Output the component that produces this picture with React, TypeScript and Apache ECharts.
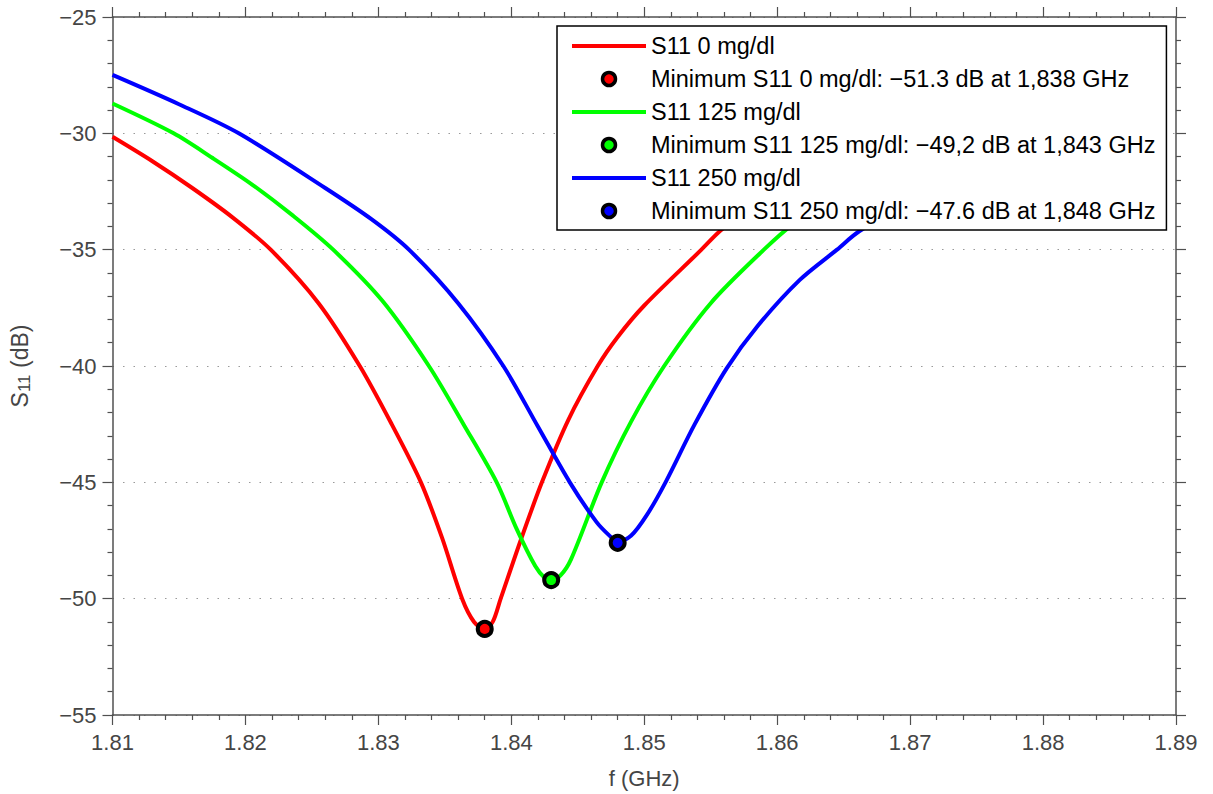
import React, { useEffect, useRef } from "react";
import * as echarts from "echarts";

const FONT = "Liberation Sans, Arial, Helvetica, sans-serif";

const xTicksMin = 1.81;
const xTicksMax = 1.89;
const yTicksMin = -55;
const yTicksMax = -25;

const seriesNames = ["S11 0 mg/dl", "S11 125 mg/dl", "S11 250 mg/dl"];
const minimumNames = [
  "Minimum S11 0 mg/dl: \u221251.3 dB at 1,838 GHz",
  "Minimum S11 125 mg/dl: \u221249,2 dB at 1,843 GHz",
  "Minimum S11 250 mg/dl: \u221247.6 dB at 1,848 GHz",
];
const colors = ["#ff0000", "#00ff00", "#0000ff"];

const s11_0: [number, number][] = [
  [1.81, -30.15], [1.813, -31.2], [1.816, -32.35], [1.819, -33.6],
  [1.8219, -35.0], [1.8255, -37.3], [1.8286, -40.0], [1.831, -42.5],
  [1.8332, -45.0], [1.8348, -47.4], [1.8363, -50.0], [1.8372, -51.0],
  [1.838, -51.3], [1.8386, -51.0], [1.8392, -50.0], [1.8407, -47.5],
  [1.8423, -45.0], [1.8443, -42.3], [1.8465, -40.0], [1.848, -38.75],
  [1.85, -37.4], [1.8543, -35.0], [1.8557, -34.2], [1.86, -32.2],
  [1.865, -30.4],
];
const s11_125: [number, number][] = [
  [1.81, -28.72], [1.8146, -30.0], [1.8175, -31.05], [1.8205, -32.2],
  [1.8236, -33.55], [1.8266, -35.0], [1.8303, -37.2], [1.8338, -40.0],
  [1.8364, -42.5], [1.8389, -45.0], [1.8404, -47.0], [1.8418, -48.6],
  [1.8425, -49.1], [1.843, -49.2], [1.8437, -49.0], [1.8445, -48.3],
  [1.8468, -45.0], [1.849, -42.4], [1.8515, -40.0], [1.855, -37.3],
  [1.859, -35.0], [1.8612, -33.9], [1.866, -32.0], [1.872, -30.3],
];
const s11_250: [number, number][] = [
  [1.81, -27.49], [1.815, -28.75], [1.8195, -30.0], [1.826, -32.35],
  [1.8295, -33.7], [1.8323, -35.0], [1.836, -37.3], [1.8394, -40.0],
  [1.842, -42.6], [1.8444, -45.0], [1.8464, -46.7], [1.8474, -47.3],
  [1.848, -47.55], [1.849, -47.3], [1.8502, -46.4], [1.8516, -45.0],
  [1.8538, -42.5], [1.8562, -40.1], [1.8585, -38.3], [1.8617, -36.3],
  [1.8645, -35.0], [1.8662, -34.2], [1.872, -32.3],
];
const minima: [number, number][] = [
  [1.838, -51.3],
  [1.843, -49.2],
  [1.848, -47.6],
];

const curves = [s11_0, s11_125, s11_250];

export default function App() {
  const ref = useRef<HTMLDivElement>(null);
  useEffect(() => {
    if (!ref.current) return;
    const chart = echarts.init(ref.current, undefined, { renderer: "svg" });
    const axisColor = "#505050";
    const labelColor = "#454545";
    const baseAxis = {
      type: "value" as const,
      axisLine: { show: true, onZero: false, lineStyle: { color: axisColor, width: 1.5 } },
      axisTick: { show: true, inside: false, length: 10, lineStyle: { color: axisColor, width: 1.2 } },
      minorTick: { show: true, splitNumber: 5, length: 5, lineStyle: { color: axisColor, width: 1.2 } },
      splitLine: { show: false },
      minorSplitLine: { show: false },
    };
    const series: any[] = [];
    curves.forEach((c, i) => {
      series.push({
        name: seriesNames[i],
        type: "line",
        data: c,
        symbol: "none",
        smooth: 0.3,
        lineStyle: { color: colors[i], width: 4 },
        itemStyle: { color: colors[i] },
        z: 2,
      });
      series.push({
        name: minimumNames[i],
        type: "scatter",
        data: [minima[i]],
        symbol: "circle",
        symbolSize: 14,
        itemStyle: { color: colors[i], borderColor: "#000", borderWidth: 4, opacity: 1 },
        z: 5,
      });
    });
    const legendData: any[] = [];
    for (let i = 0; i < 3; i++) {
      legendData.push({ name: seriesNames[i], icon: "path://M0 0H74V4H0Z" });
      legendData.push({
        name: minimumNames[i],
        icon: "circle",
        itemStyle: { color: colors[i], borderColor: "#000", borderWidth: 3.5 },
      });
    }
    chart.setOption({
      animation: false,
      backgroundColor: "#ffffff",
      textStyle: { fontFamily: FONT },
      grid: { left: 112, right: 37, top: 17, bottom: 77, containLabel: false },
      xAxis: [
        {
          ...baseAxis,
          position: "bottom",
          min: xTicksMin,
          max: xTicksMax,
          interval: 0.01,
          name: "f (GHz)",
          nameLocation: "middle",
          nameGap: 52,
          nameTextStyle: { fontSize: 22, color: labelColor, fontFamily: FONT },
          axisLabel: {
            show: true,
            margin: 16,
            fontSize: 22,
            color: labelColor,
            fontFamily: FONT,
            formatter: (v: number) => v.toFixed(2),
          },
        },
        {
          ...baseAxis,
          position: "top",
          min: xTicksMin,
          max: xTicksMax,
          interval: 0.01,
          axisLabel: { show: false },
        },
      ],
      yAxis: [
        {
          ...baseAxis,
          position: "left",
          min: yTicksMin,
          max: yTicksMax,
          interval: 5,
          name: "{s|S}{sub|11}{s| (dB)}",
          nameLocation: "middle",
          nameGap: 80,
          nameRotate: 90,
          nameTextStyle: {
            rich: {
              s: { fontSize: 23, color: labelColor, fontFamily: FONT, lineHeight: 26, verticalAlign: "middle" },
              sub: { fontSize: 17, color: labelColor, fontFamily: FONT, lineHeight: 14, verticalAlign: "bottom" },
            },
          },
          axisLabel: {
            show: true,
            margin: 16,
            fontSize: 22,
            color: labelColor,
            fontFamily: FONT,
            formatter: (v: number) => (v < 0 ? "\u2212" + Math.abs(v) : String(v)),
          },
          splitLine: { show: true, lineStyle: { color: "#9a9a9a", width: 1.2, type: [1.5, 9] } },
        },
        {
          ...baseAxis,
          position: "right",
          min: yTicksMin,
          max: yTicksMax,
          interval: 5,
          axisLabel: { show: false },
        },
      ],
      legend: {
        show: true,
        orient: "vertical",
        left: 557,
        top: 26,
        padding: [8, 11, 7, 15],
        itemWidth: 74,
        itemHeight: 13,
        itemGap: 9,
        backgroundColor: "#ffffff",
        borderColor: "#000000",
        borderWidth: 1.5,
        borderRadius: 0,
        textStyle: { fontSize: 23.5, color: "#000", fontFamily: FONT },
        data: legendData,
        selectedMode: false,
        z: 10,
      },
      series,
    });
    return () => chart.dispose();
  }, []);
  return <div ref={ref} style={{ width: 1213, height: 794, position: "absolute", left: 0, top: 0 }} />;
}
